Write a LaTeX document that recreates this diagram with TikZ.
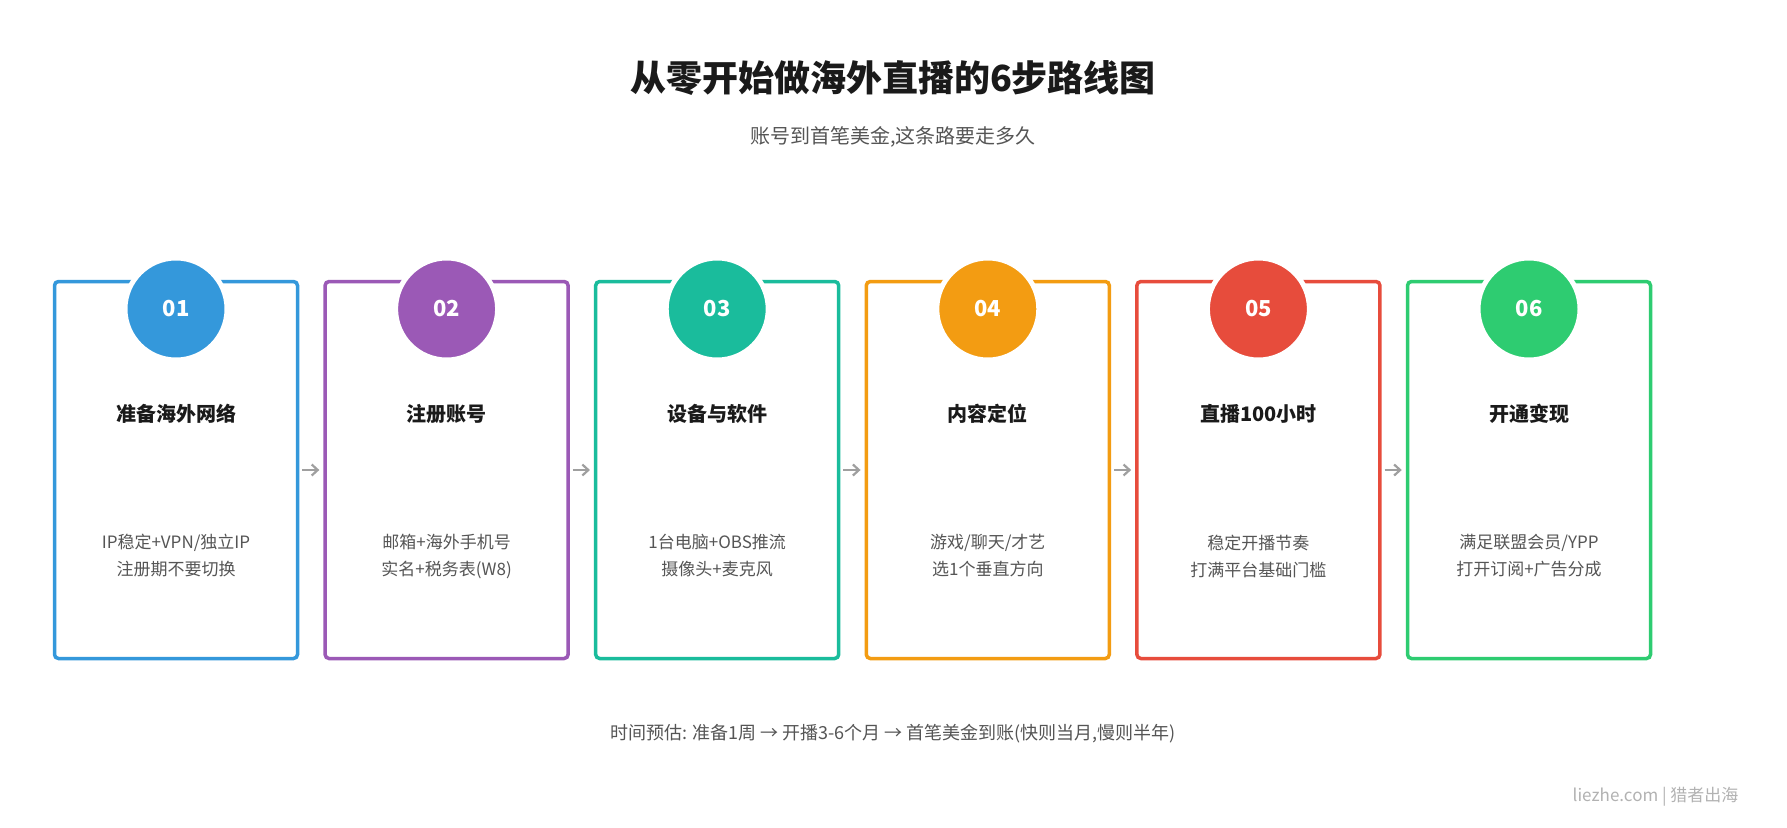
\documentclass[tikz,border=0pt]{standalone}
\usepackage{fontspec}
\setmainfont{Noto Sans CJK SC}
\usetikzlibrary{arrows.meta,positioning}
\definecolor{cA}{HTML}{3498DB}
\definecolor{cB}{HTML}{9B59B6}
\definecolor{cC}{HTML}{1ABC9C}
\definecolor{cD}{HTML}{F39C12}
\definecolor{cE}{HTML}{E74C3C}
\definecolor{cF}{HTML}{2ECC71}
\definecolor{txtdark}{HTML}{1A1A1A}
\definecolor{txtgray}{HTML}{555555}
\tikzset{
  step/.style={draw=#1,line width=3.5pt,rounded corners=4pt,minimum width=243pt,minimum height=377pt,inner sep=0pt},
  badge/.style={circle,fill=#1,draw=white,line width=5pt,minimum size=102pt,text=white,font=\fontsize{22}{24}\selectfont\bfseries},
  head/.style={font=\fontsize{20}{24}\selectfont\bfseries,text=txtdark},
  desc/.style={font=\fontsize{17}{27}\selectfont,text=txtgray,align=center},
  flow/.style={-{Straight Barb[length=6pt,width=11pt]},draw=gray!75,line width=2.2pt}
}
\begin{document}
\begin{tikzpicture}[x=1pt,y=1pt]
\useasboundingbox[fill=white] (0,0) rectangle (1787,-827);

\node[font=\fontsize{36}{42}\selectfont\bfseries,text=txtdark] (title) at (893,-78) {从零开始做海外直播的6步路线图};
\node[font=\fontsize{20}{24}\selectfont,text=txtgray] (sub) at (893,-137) {账号到首笔美金,这条路要走多久};

\foreach \i/\c/\n/\h/\da/\db in {
  1/cA/01/准备海外网络/{IP稳定+VPN/独立IP}/注册期不要切换,
  2/cB/02/注册账号/邮箱+海外手机号/实名+税务表(W8),
  3/cC/03/设备与软件/1台电脑+OBS推流/摄像头+麦克风,
  4/cD/04/内容定位/{游戏/聊天/才艺}/选1个垂直方向,
  5/cE/05/直播100小时/稳定开播节奏/打满平台基础门槛,
  6/cF/06/开通变现/{满足联盟会员/YPP}/打开订阅+广告分成}
{
  \node[step=\c] (box\i) at ({176+270.6*(\i-1)},-470) {};
  \node[badge=\c] (num\i) at ({176+270.6*(\i-1)},-309) {\n};
  \node[head] (head\i) at ({176+270.6*(\i-1)},-414) {\h};
  \node[desc] (desc\i) at ({176+270.6*(\i-1)},-556) {\da\\\db};
}

\foreach \i [evaluate=\i as \j using int(\i+1)] in {1,...,5}
  \draw[flow,shorten <=3pt,shorten >=4pt] (box\i.east) -- (box\j.west);

\node[font=\fontsize{18}{22}\selectfont,text=txtgray] (foot) at (893,-734) {时间预估: 准备1周 → 开播3-6个月 → 首笔美金到账(快则当月,慢则半年)};
\node[font=\fontsize{17}{20}\selectfont,text=gray!60,anchor=east] (mark) at (1742,-797) {liezhe.com | 猎者出海};
\end{tikzpicture}
\end{document}
